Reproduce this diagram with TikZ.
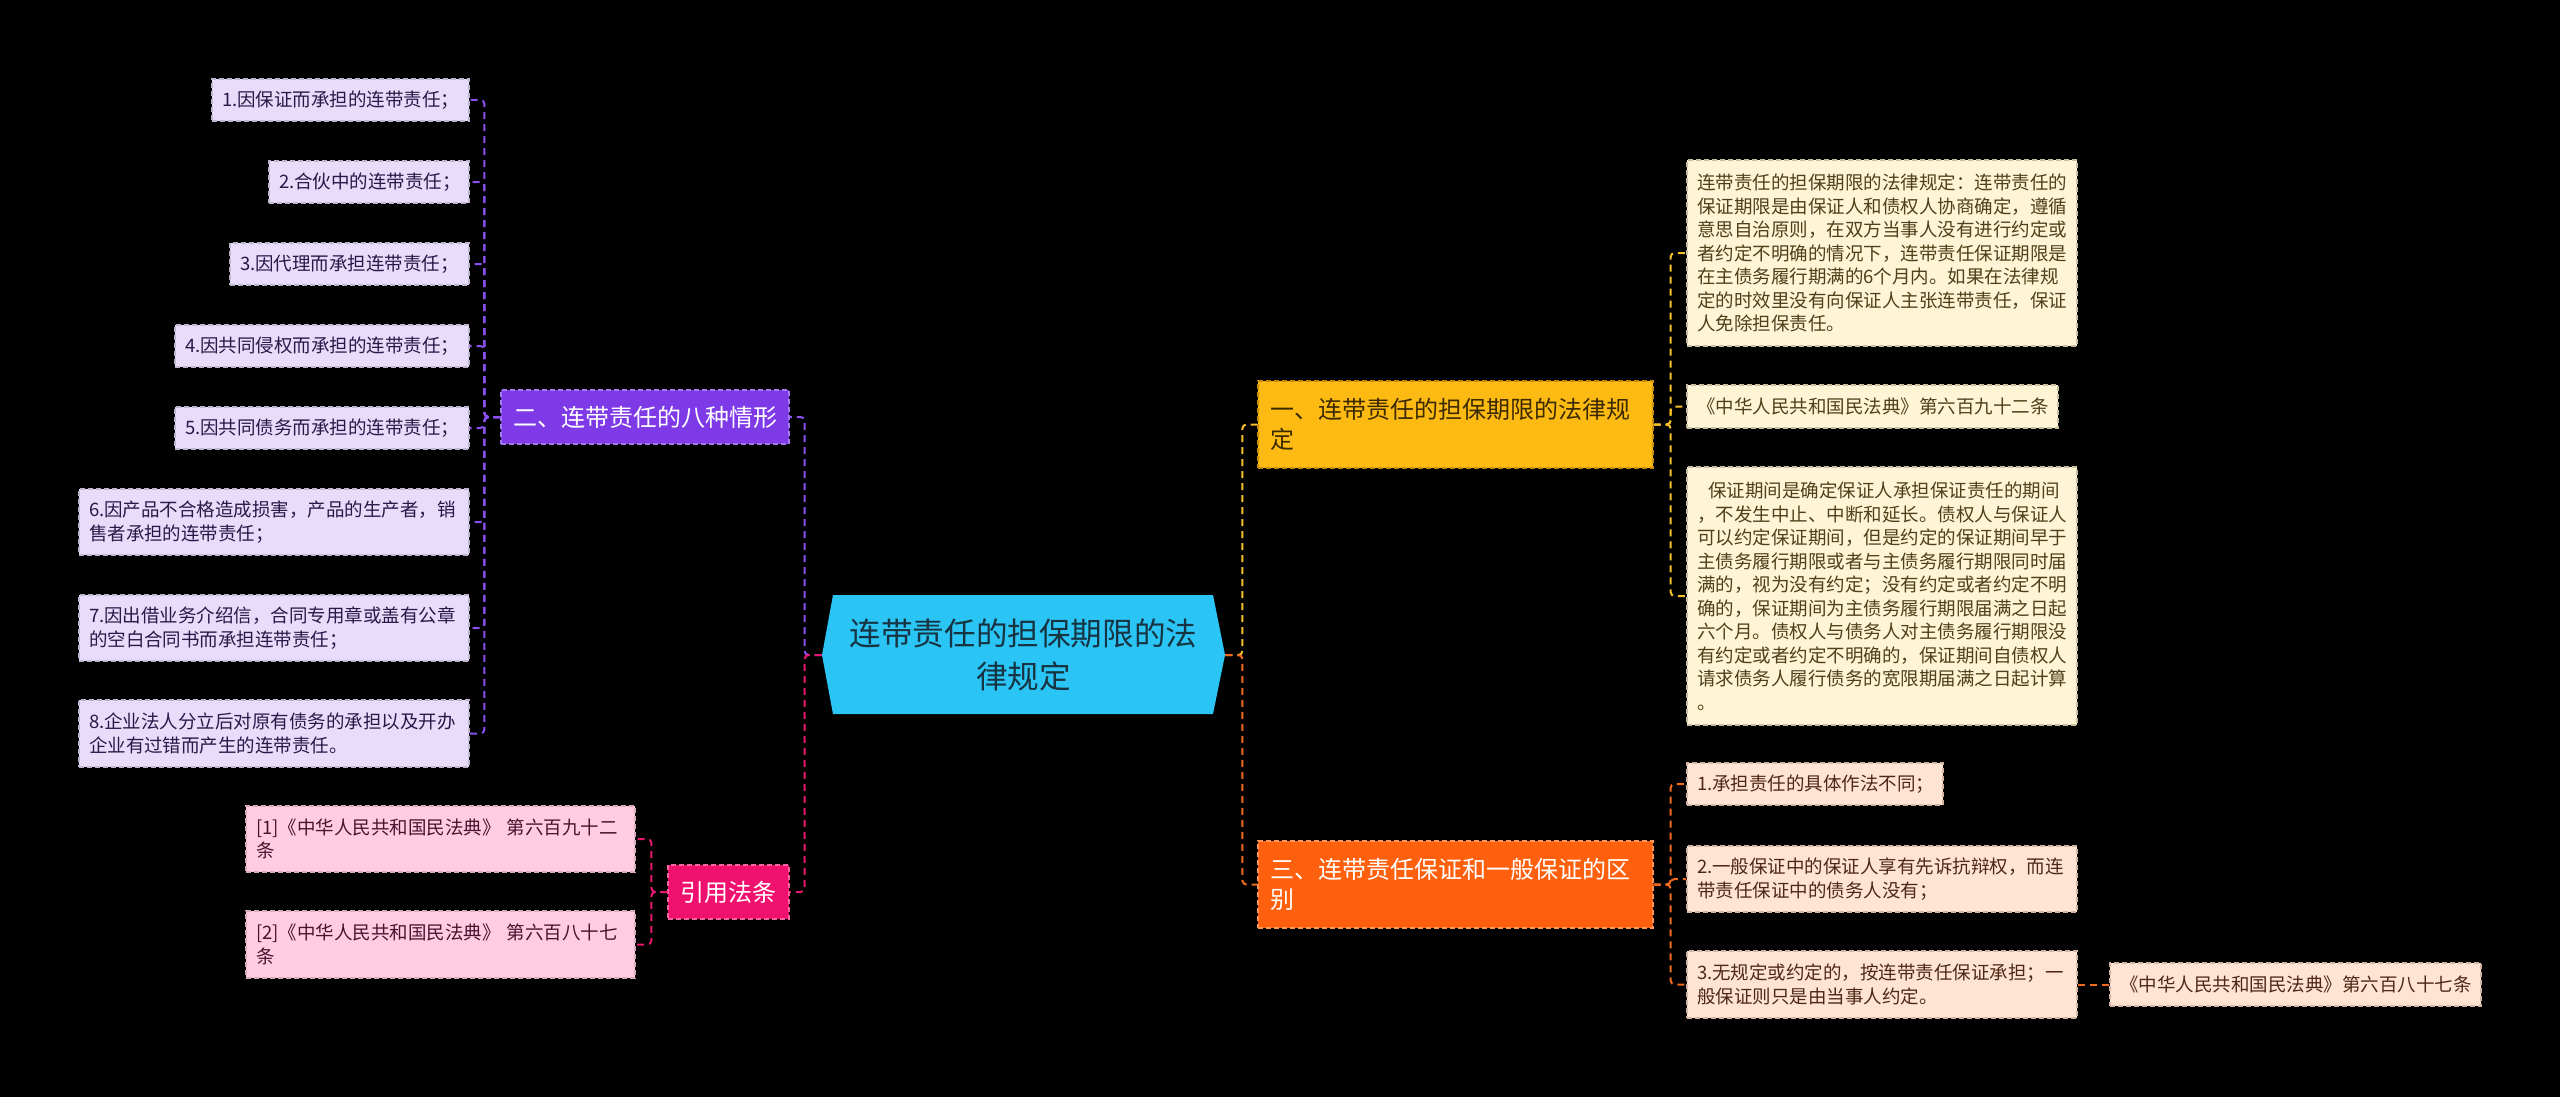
\documentclass[tikz,border=0pt]{standalone}
\usepackage{fontspec}
\setmainfont{Noto Sans CJK SC}
\definecolor{rootfill}{RGB}{42,196,245}
\definecolor{roottext}{RGB}{22,52,66}
\definecolor{pbfill}{RGB}{127,58,232}
\definecolor{pbdraw}{RGB}{165,120,245}
\definecolor{kbfill}{RGB}{240,17,110}
\definecolor{kbdraw}{RGB}{250,100,160}
\definecolor{ybfill}{RGB}{253,186,19}
\definecolor{ybdraw}{RGB}{200,140,10}
\definecolor{ybtext}{RGB}{60,42,0}
\definecolor{obfill}{RGB}{255,96,14}
\definecolor{obdraw}{RGB}{255,150,90}
\definecolor{pleafc}{RGB}{231,220,250}
\definecolor{pleafb}{RGB}{190,180,205}
\definecolor{ptext}{RGB}{42,24,72}
\definecolor{kleafc}{RGB}{255,204,226}
\definecolor{kleafb}{RGB}{215,170,190}
\definecolor{ktext}{RGB}{72,20,45}
\definecolor{yleafc}{RGB}{255,244,214}
\definecolor{yleafb}{RGB}{200,190,160}
\definecolor{ytext}{RGB}{78,64,26}
\definecolor{oleafc}{RGB}{255,228,212}
\definecolor{oleafb}{RGB}{210,180,165}
\definecolor{otext}{RGB}{78,40,22}
\definecolor{pline}{RGB}{138,80,240}
\definecolor{kline}{RGB}{232,24,111}
\definecolor{yline}{RGB}{245,192,42}
\definecolor{oline}{RGB}{242,107,29}
\tikzset{
  con/.style={line width=1pt, dash pattern=on 3.5pt off 2.5pt, rounded corners=2pt},
  pcon/.style={con, draw=pline},
  kcon/.style={con, draw=kline},
  ycon/.style={con, draw=yline},
  ocon/.style={con, draw=oline},
  box/.style={draw, dash pattern=on 2.5pt off 1.5pt, line width=0.6pt, inner ysep=0pt, anchor=center},
  leaf/.style={box, inner xsep=5pt, align=left, font=\fontsize{9.25pt}{11.75pt}\selectfont},
  pleaf/.style={leaf, fill=pleafc, draw=pleafb, text=ptext},
  kleaf/.style={leaf, fill=kleafc, draw=kleafb, text=ktext},
  yleaf/.style={leaf, fill=yleafc, draw=yleafb, text=ytext},
  oleaf/.style={leaf, fill=oleafc, draw=oleafb, text=otext},
  branch/.style={box, inner xsep=6pt, align=left, font=\fontsize{12pt}{15pt}\selectfont},
}
\begin{document}
\begin{tikzpicture}[x=0.5pt, y=-0.5pt]
\useasboundingbox[fill=black] (0,0) rectangle (2560,1097);

% root hexagon
\fill[rootfill] (822,655) -- (833,595) -- (1213,595) -- (1225,655) -- (1213,714) -- (833,714) -- cycle;
\node[minimum width=201.5pt, minimum height=59.5pt, inner sep=0pt, align=center, text=roottext,
  font=\fontsize{15.8pt}{21.5pt}\selectfont] (root) at (1023.5,655) {连带责任的担保期限的法\\律规定};

% branches
\node[branch, fill=pbfill, draw=pbdraw, text=white, text width=132pt, minimum height=27pt] (PB) at (645,417) {二、连带责任的八种情形};
\node[branch, fill=kbfill, draw=kbdraw, text=white, text width=48.5pt, minimum height=27pt] (KB) at (728.5,892) {引用法条};
\node[branch, fill=ybfill, draw=ybdraw, text=ybtext, text width=185.5pt, minimum height=43.5pt] (YB) at (1455.5,424.5) {一、连带责任的担保期限的法律规\\定};
\node[branch, fill=obfill, draw=obdraw, text=white, text width=185.5pt, minimum height=43.5pt] (OB) at (1455.5,884.5) {三、连带责任保证和一般保证的区\\别};

% purple leaves
\node[pleaf, text width=118.5pt, minimum height=21pt] (P1) at (340.5,100) {1.因保证而承担的连带责任；};
\node[pleaf, text width=90pt, minimum height=21pt] (P2) at (369,182) {2.合伙中的连带责任；};
\node[pleaf, text width=109.5pt, minimum height=21pt] (P3) at (349.5,264) {3.因代理而承担连带责任；};
\node[pleaf, text width=137pt, minimum height=21pt] (P4) at (322,346) {4.因共同侵权而承担的连带责任；};
\node[pleaf, text width=137pt, minimum height=21pt] (P5) at (322,428) {5.因共同债务而承担的连带责任；};
\node[pleaf, text width=185pt, minimum height=33pt] (P6) at (274,522) {6.因产品不合格造成损害，产品的生产者，销\\售者承担的连带责任；};
\node[pleaf, text width=185pt, minimum height=33pt] (P7) at (274,628) {7.因出借业务介绍信，合同专用章或盖有公章\\的空白合同书而承担连带责任；};
\node[pleaf, text width=185pt, minimum height=33.5pt] (P8) at (274,733.5) {8.企业法人分立后对原有债务的承担以及开办\\企业有过错而产生的连带责任。};

% pink leaves
\node[kleaf, text width=184.5pt, minimum height=33pt] (K1) at (440.5,839) {[1]《中华人民共和国民法典》 第六百九十二\\条};
\node[kleaf, text width=184.5pt, minimum height=33.5pt] (K2) at (440.5,944.5) {[2]《中华人民共和国民法典》 第六百八十七\\条};

% yellow leaves
\node[yleaf, text width=185pt, minimum height=93pt] (Y1) at (1882,253) {连带责任的担保期限的法律规定：连带责任的\\保证期限是由保证人和债权人协商确定，遵循\\意思自治原则，在双方当事人没有进行约定或\\者约定不明确的情况下，连带责任保证期限是\\在主债务履行期满的6个月内。如果在法律规\\定的时效里没有向保证人主张连带责任，保证\\人免除担保责任。};
\node[yleaf, text width=175.5pt, minimum height=21.5pt] (Y2) at (1872.5,406.5) {《中华人民共和国民法典》第六百九十二条};
\node[yleaf, text width=185pt, minimum height=129pt] (Y3) at (1882,596) {\hspace*{5.5pt}保证期间是确定保证人承担保证责任的期间\\，不发生中止、中断和延长。债权人与保证人\\可以约定保证期间，但是约定的保证期间早于\\主债务履行期限或者与主债务履行期限同时届\\满的，视为没有约定；没有约定或者约定不明\\确的，保证期间为主债务履行期限届满之日起\\六个月。债权人与债务人对主债务履行期限没\\有约定或者约定不明确的，保证期间自债权人\\请求债务人履行债务的宽限期届满之日起计算\\。};

% orange leaves
\node[oleaf, text width=118pt, minimum height=21pt] (O1) at (1815,784) {1.承担责任的具体作法不同；};
\node[oleaf, text width=185pt, minimum height=33pt] (O2) at (1882,879) {2.一般保证中的保证人享有先诉抗辩权，而连\\带责任保证中的债务人没有；};
\node[oleaf, text width=185pt, minimum height=33.5pt] (O3) at (1882,984.5) {3.无规定或约定的，按连带责任保证承担；一\\般保证则只是由当事人约定。};
\node[oleaf, text width=175.5pt, minimum height=21.5pt, align=center] (O4) at (2295.5,984.5) {《中华人民共和国民法典》第六百八十七条};

% root connectors
\draw[pcon] (root.west) -- ++(-17,0) |- (PB.east);
\draw[kcon] (root.west) -- ++(-17,0) |- (KB.east);
\draw[ycon] (root.east) -- ++(17,0) |- (YB.west);
\draw[ocon] (root.east) -- ++(17,0) |- (OB.west);

% purple
\foreach \n in {P1,P2,P3,P4,P5,P6,P7,P8}
  \draw[pcon] (PB.west) -- ++(-16,0) |- (\n.east);
% pink
\foreach \n in {K1,K2}
  \draw[kcon] (KB.west) -- ++(-16,0) |- (\n.east);
% yellow
\foreach \n in {Y1,Y2,Y3}
  \draw[ycon] (YB.east) -- ++(17,0) |- (\n.west);
% orange
\foreach \n in {O1,O2,O3}
  \draw[ocon] (OB.east) -- ++(17,0) |- (\n.west);
\draw[ocon] (O3.east) -- (O4.west);
\end{tikzpicture}
\end{document}
